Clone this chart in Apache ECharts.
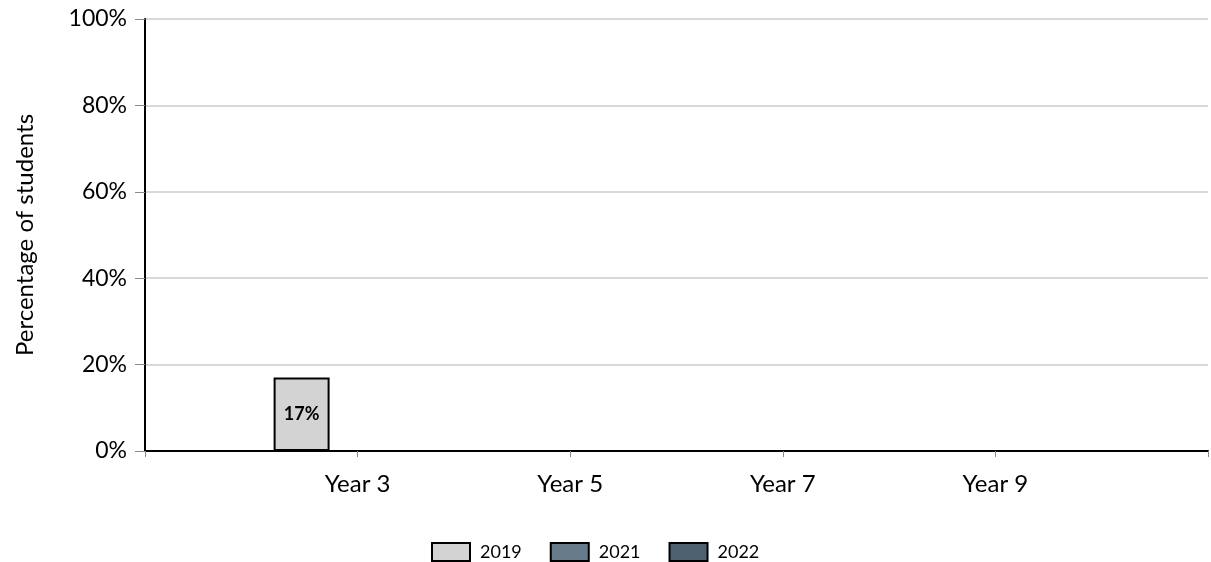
<!DOCTYPE html>
<html>
<head>
<meta charset="utf-8">
<script src="https://cdn.jsdelivr.net/npm/echarts@6/dist/echarts.min.js"></script>
<style>
  html, body { margin: 0; padding: 0; background: #fff; }
  #chart { width: 1211px; height: 562px; }
</style>
</head>
<body>
<div id="chart"></div>
<script>
// Year levels along the axis; blank slots pad both ends of the axis
const categories = ['', 'Year 3', 'Year 5', 'Year 7', 'Year 9', ''];
const seriesNames = ['2019', '2021', '2022'];
// Percentage of students per year level (null = no result)
const values2019 = [null, 17, null, null, null, null];
const values2021 = [null, null, null, null, null, null];
const values2022 = [null, null, null, null, null, null];
const yTicks = [0, 20, 40, 60, 80, 100];

const colors = ['#d3d3d3', '#687b8a', '#4e6171'];
const FONT = 'Lato, "Open Sans", sans-serif';

const chart = echarts.init(document.getElementById('chart'), null, { renderer: 'canvas' });

function makeSeries(name, data, color) {
  return {
    name: name,
    type: 'bar',
    data: data,
    barWidth: 56,
    barGap: '0%',
    itemStyle: { color: color, borderColor: '#000', borderWidth: 2 },
    label: {
      show: true,
      position: 'inside',
      formatter: p => (p.value == null ? '' : Math.round(p.value) + '%'),
      color: '#000',
      fontWeight: 'bold',
      fontSize: 18,
      fontFamily: FONT
    }
  };
}

chart.setOption({
  animation: false,
  backgroundColor: '#fff',
  grid: { left: 145, right: 0, top: 19, bottom: 111, containLabel: false },
  legend: {
    data: seriesNames,
    top: 542,
    left: 431,
    padding: 0,
    icon: 'rect',
    itemWidth: 38,
    itemHeight: 18,
    itemGap: 28,
    textStyle: { fontSize: 18, lineHeight: 18, color: '#000', fontFamily: FONT, padding: [0, 0, 0, 5] }
  },
  xAxis: {
    type: 'category',
    data: categories,
    boundaryGap: false,
    axisLine: { lineStyle: { color: '#000', width: 2 } },
    axisTick: { show: true, length: 6, lineStyle: { color: '#888', width: 1 } },
    axisLabel: { color: '#000', fontSize: 24, fontFamily: FONT, margin: 21, interval: 0 },
    splitLine: { show: false }
  },
  yAxis: {
    type: 'value',
    min: yTicks[0],
    max: yTicks[yTicks.length - 1],
    interval: yTicks[1] - yTicks[0],
    name: 'Percentage of students',
    nameLocation: 'middle',
    nameGap: 108,
    nameTextStyle: { fontSize: 24, color: '#000', fontFamily: FONT },
    axisLine: { show: true, lineStyle: { color: '#000', width: 2 } },
    axisTick: { show: true, length: 10, lineStyle: { color: '#888', width: 1 } },
    axisLabel: { formatter: '{value}%', color: '#000', fontSize: 23, fontFamily: FONT, margin: 18 },
    splitLine: { show: true, lineStyle: { color: '#d9d9d9', width: 2 } }
  },
  series: [
    makeSeries(seriesNames[0], values2019, colors[0]),
    makeSeries(seriesNames[1], values2021, colors[1]),
    makeSeries(seriesNames[2], values2022, colors[2])
  ]
});
</script>
</body>
</html>
